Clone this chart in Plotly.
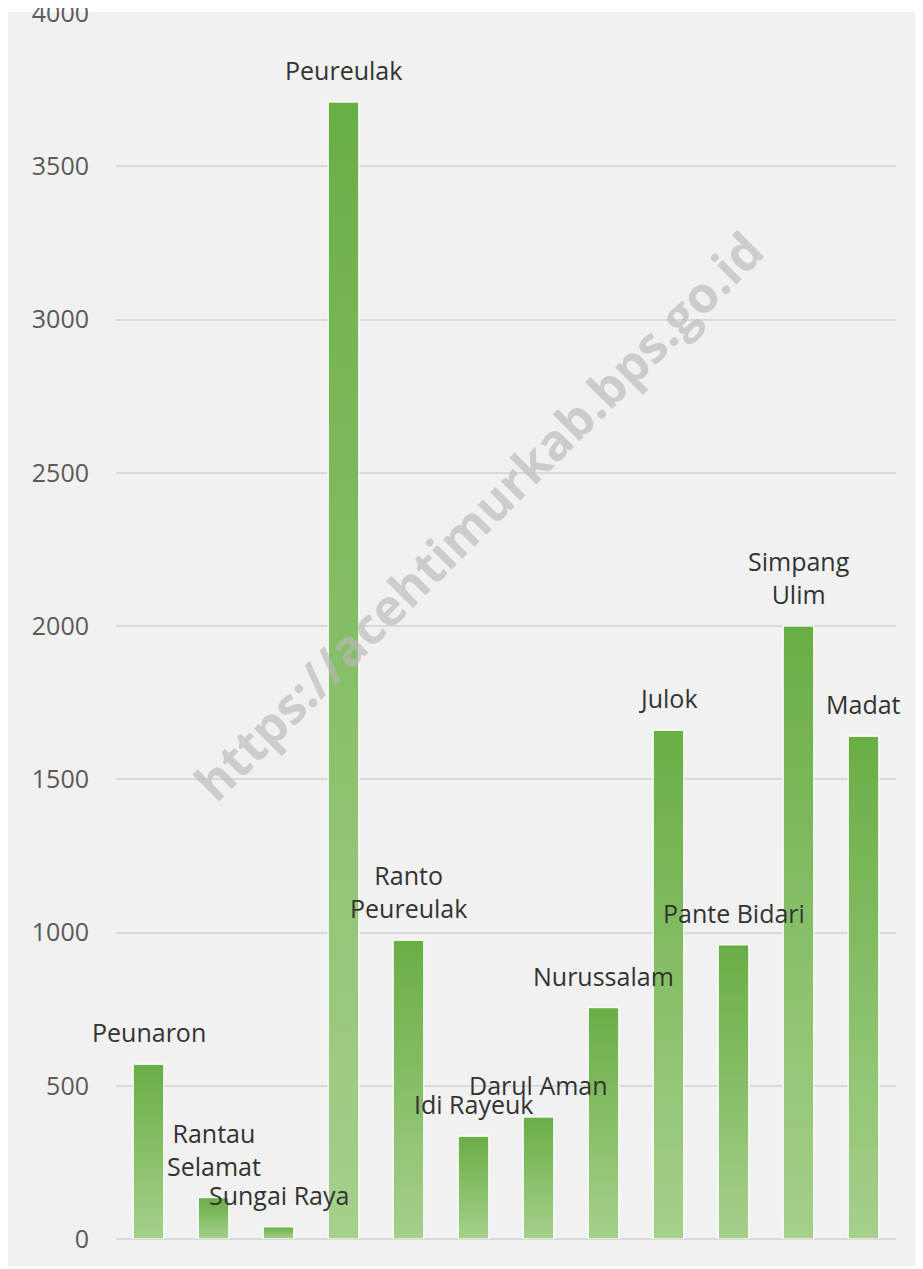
"""Bar chart of values per kecamatan (Aceh Timur) with gradient-filled bars."""

import plotly.graph_objects as go

# Data.
districts = [
    "Peunaron", "Rantau Selamat", "Sungai Raya", "Peureulak", "Ranto Peureulak",
    "Idi Rayeuk", "Darul Aman", "Nurussalam", "Julok", "Pante Bidari",
    "Simpang Ulim", "Madat",
]
label_text = [
    "Peunaron", "Rantau<br>Selamat", "Sungai Raya", "Peureulak", "Ranto<br>Peureulak",
    "Idi Rayeuk", "Darul Aman", "Nurussalam", "Julok", "Pante Bidari",
    "Simpang<br>Ulim", "Madat",
]
values = [570, 135, 40, 3710, 975, 335, 398, 755, 1660, 960, 2000, 1640]
y_ticks = [0, 500, 1000, 1500, 2000, 2500, 3000, 3500, 4000]

# Gradient from the light bottom to the darker top of each bar.
BOTTOM_RGB = (165, 208, 140)
TOP_RGB = (106, 174, 69)
N_STEPS = 60
FONT = "Open Sans, Segoe UI, sans-serif"


def blend(t):
    r, g, b = (round(lo + (hi - lo) * t) for lo, hi in zip(BOTTOM_RGB, TOP_RGB))
    return f"rgb({r},{g},{b})"


fig = go.Figure()

# Overlay ever shorter, lighter bars so the colour fades towards the bottom
# without seams between the steps.
for i in range(N_STEPS):
    frac = (N_STEPS - i) / N_STEPS
    fig.add_trace(
        go.Bar(
            x=districts,
            y=[v * frac for v in values],
            marker=dict(color=blend(frac - 0.5 / N_STEPS), line=dict(width=0)),
            hoverinfo="skip",
            showlegend=False,
        )
    )

# Thin white outline over the whole bar.
fig.add_trace(
    go.Bar(
        x=districts,
        y=values,
        marker=dict(color="rgba(0,0,0,0)", line=dict(color="rgba(255,255,255,0.85)", width=1.5)),
        hovertemplate="<b>%{x}</b><br>%{y}<extra></extra>",
        showlegend=False,
    )
)

# Category names sit just above each bar.
for name, text, v in zip(districts, label_text, values):
    fig.add_annotation(
        x=name, y=v, text=text, showarrow=False,
        yanchor="bottom", yshift=13,
        font=dict(family=FONT, size=25, color="#333333"),
    )

# Watermark across the chart.
fig.add_annotation(
    xref="paper", yref="paper", x=0.464, y=0.59,
    text="<b>https://acehtimurkab.bps.go.id</b>", textangle=-45, showarrow=False,
    font=dict(family=FONT, size=50, color="rgba(185,185,185,0.65)"),
)

# Light grey card behind the plot.
fig.add_shape(
    type="rect", xref="paper", yref="paper",
    x0=-0.1397, x1=1.05, y0=-0.022, y1=1.0008,
    fillcolor="#f1f1f1", line=dict(width=0), layer="below",
)

fig.update_layout(
    width=923,
    height=1269,
    barmode="overlay",
    bargap=0.53,
    paper_bgcolor="white",
    plot_bgcolor="rgba(0,0,0,0)",
    margin=dict(l=108, r=35, t=5, b=38, autoexpand=False),
    showlegend=False,
    xaxis=dict(
        range=[-0.5, len(districts) - 0.5],
        showticklabels=False, showgrid=False, zeroline=False, showline=False,
    ),
    yaxis=dict(
        range=[0, 4000],
        tickvals=y_ticks,
        automargin=False,
        showgrid=True, gridcolor="#d9d9d9", gridwidth=2,
        zeroline=True, zerolinecolor="#d9d9d9", zerolinewidth=2,
        showline=False, ticks="",
        ticklabelstandoff=26,
        ticklabeloverflow="allow",
        tickfont=dict(family=FONT, size=25, color="#5a5a5a"),
    ),
)

fig.write_html("out.html")
